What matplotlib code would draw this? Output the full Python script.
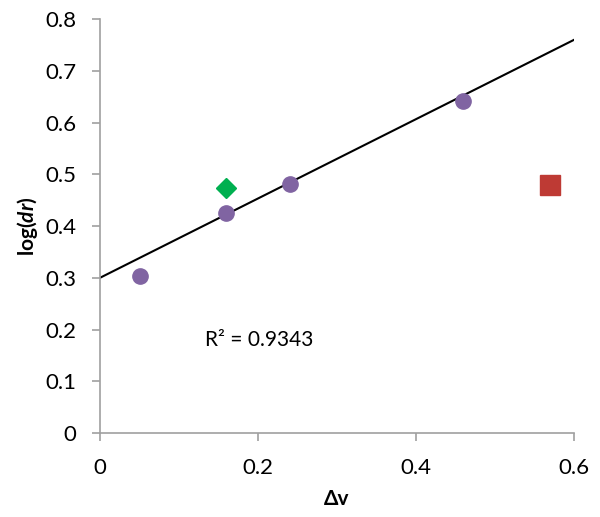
import matplotlib
matplotlib.use("Agg")
import matplotlib.pyplot as plt

# Data
main_x = [0.05, 0.16, 0.24, 0.46]
main_y = [0.303, 0.426, 0.481, 0.641]
green_x = [0.16]
green_y = [0.473]
red_x = [0.57]
red_y = [0.48]

# trend line end points (as drawn)
trend_x = [0.0, 0.6]
trend_y = [0.30, 0.76]
r2_text = "R² = 0.9343"

x_ticks = [0, 0.2, 0.4, 0.6]
x_tick_labels = ["0", "0.2", "0.4", "0.6"]
y_ticks = [0, 0.1, 0.2, 0.3, 0.4, 0.5, 0.6, 0.7, 0.8]
y_tick_labels = ["0", "0.1", "0.2", "0.3", "0.4", "0.5", "0.6", "0.7", "0.8"]

plt.rcParams['font.family'] = ['Lato', 'DejaVu Sans']
plt.rcParams['mathtext.fontset'] = 'custom'
plt.rcParams['mathtext.bfit'] = 'Lato:italic:bold'
plt.rcParams['mathtext.rm'] = 'Lato'

fig = plt.figure(figsize=(6, 5.17), dpi=100)
ax = fig.add_axes([0.1667, 0.1625, 0.79, 0.8005])

ax.plot(trend_x, trend_y, color="black", linewidth=1.5, zorder=2)
ax.plot(main_x, main_y, linestyle="none", marker="o", markersize=11,
        color="#8064A2", zorder=3)
ax.plot(green_x, green_y, linestyle="none", marker="D", markersize=10,
        color="#00B050", zorder=3)
ax.plot(red_x, red_y, linestyle="none", marker="s", markersize=14,
        color="#BE3A34", zorder=3)

ax.text(0.133, 0.18, r2_text, fontsize=15, va="center", ha="left")

ax.set_xlim(0, 0.6)
ax.set_ylim(0, 0.8)
ax.set_xticks(x_ticks)
ax.set_xticklabels(x_tick_labels)
ax.set_yticks(y_ticks)
ax.set_yticklabels(y_tick_labels)

for side in ["top", "right"]:
    ax.spines[side].set_visible(False)
for side in ["left", "bottom"]:
    ax.spines[side].set_color("#A0A0A0")
    ax.spines[side].set_linewidth(1.2)
ax.tick_params(axis="both", direction="out", length=6, width=1.2,
               color="#A0A0A0", labelsize=16)
ax.tick_params(axis="y", pad=11)
ax.tick_params(axis="x", pad=12)

ax.set_xlabel("Δv", fontsize=15, fontweight="bold", labelpad=8)
ax.set_ylabel(r"log($\mathbfit{dr}$)", fontsize=15, fontweight="bold", labelpad=4)

fig.savefig("out.png", dpi=100)
